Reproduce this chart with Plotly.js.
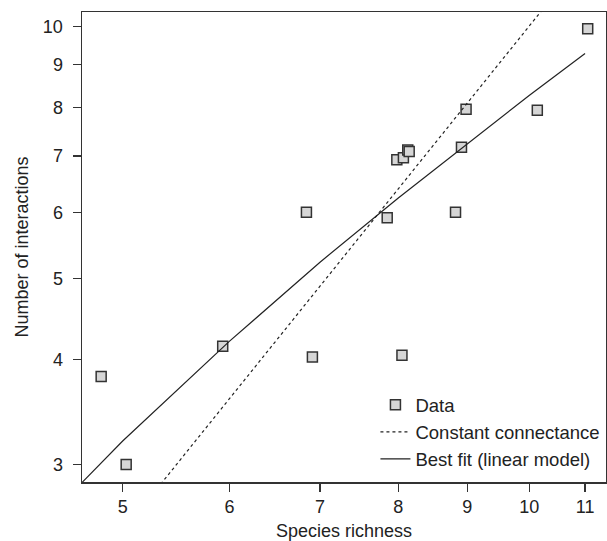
<!DOCTYPE html>
<html>
<head>
<meta charset="utf-8">
<script src="https://cdn.plot.ly/plotly-3.0.1.min.js"></script>
<style>html,body{margin:0;padding:0;background:#fff;}#chart{width:607px;height:541px;}</style>
</head>
<body>
<div id="chart"></div>
<script>
// Observed data (species richness vs number of interactions)
const richness = [4.82, 5.03, 5.93, 6.91, 8.05, 6.84, 7.85, 8.82, 7.98, 8.07, 8.13, 8.15, 8.91, 8.98, 10.14, 11.05];
const interactions = [3.82, 3.00, 4.15, 4.03, 4.05, 6.00, 5.91, 6.00, 6.93, 6.97, 7.12, 7.09, 7.17, 7.96, 7.94, 9.93];

// Constant connectance line (read endpoints)
const connX = [5.2, 10.4];
const connY = [2.70, 10.82];

// Best fit (linear model) line
const fitX = [4.6, 5, 6, 7, 8, 9, 10, 11];
const fitY = [2.79, 3.20, 4.21, 5.23, 6.24, 7.25, 8.27, 9.28];

const xTicks = [5, 6, 7, 8, 9, 10, 11];
const yTicks = [3, 4, 5, 6, 7, 8, 9, 10];

const font = {family: 'Liberation Sans, Arial, sans-serif', size: 18, color: '#222'};
const legFont = {family: 'Liberation Sans, Arial, sans-serif', size: 18.5, color: '#222'};

const traces = [
  {x: richness, y: interactions, mode: 'markers', type: 'scatter', name: 'Data',
   marker: {symbol: 'square', size: 10, color: '#d6d6d6', line: {width: 1.5, color: '#333'}}},
  {x: connX, y: connY, mode: 'lines', type: 'scatter', name: 'Constant connectance',
   line: {color: '#222', width: 1.2, dash: '3px,3px'}},
  {x: fitX, y: fitY, mode: 'lines', type: 'scatter', name: 'Best fit (linear model)',
   line: {color: '#222', width: 1.2}}
];

const layout = {
  width: 607, height: 541,
  margin: {l: 82, r: 1, t: 12, b: 59},
  paper_bgcolor: '#fff', plot_bgcolor: '#fff',
  font: font,
  showlegend: true,
  legend: {x: 0.56, y: 0.008, xanchor: 'left', yanchor: 'bottom', bgcolor: 'rgba(0,0,0,0)',
           font: legFont, tracegroupgap: 0},
  xaxis: {
    type: 'log', range: [Math.log10(4.665), Math.log10(11.40)],
    tickvals: xTicks, ticktext: xTicks.map(String),
    ticks: 'outside', ticklen: 8, tickwidth: 1.2, tickcolor: '#333',
    showline: true, linecolor: '#333', linewidth: 1.5, mirror: true,
    showgrid: false, zeroline: false,
    title: {text: 'Species richness', font: font, standoff: 8}
  },
  yaxis: {
    type: 'log', range: [Math.log10(2.859), Math.log10(10.40)],
    tickvals: yTicks, ticktext: yTicks.map(String),
    ticks: 'outside', ticklen: 8, tickwidth: 1.2, tickcolor: '#333',
    ticklabelstandoff: 6,
    showline: true, linecolor: '#333', linewidth: 1.5, mirror: true,
    showgrid: false, zeroline: false,
    title: {text: 'Number of interactions', font: font, standoff: 9}
  }
};

Plotly.newPlot('chart', traces, layout, {displayModeBar: false, staticPlot: true});
</script>
</body>
</html>
